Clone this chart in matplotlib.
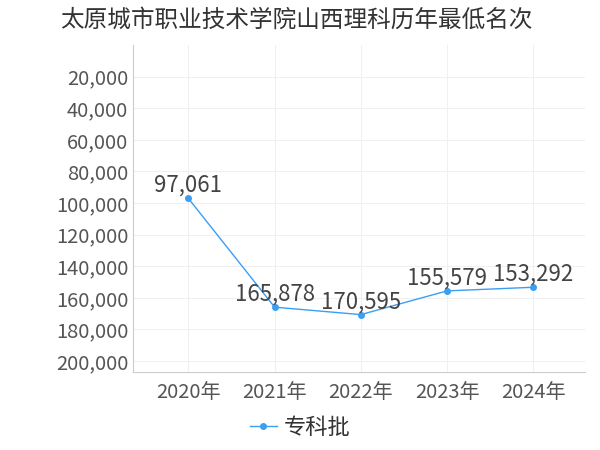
import matplotlib.pyplot as plt
from matplotlib.ticker import FuncFormatter

plt.rcParams['font.family'] = ['Noto Sans CJK SC', 'DejaVu Sans']

years = ['2020年', '2021年', '2022年', '2023年', '2024年']
ranks = [97061, 165878, 170595, 155579, 153292]
series_name = '专科批'
title = '太原城市职业技术学院山西理科历年最低名次'

fig = plt.figure(figsize=(6, 4.5), dpi=100)
ax = fig.add_axes([0.222, 0.173, 0.753, 0.727])
x = list(range(len(years)))
ax.plot(x, ranks, color='#3a9ef5', lw=1, marker='o', ms=4, label=series_name)
for xi, v in zip(x, ranks):
    ax.annotate(f'{v:,}', (xi, v), xytext=(0, 1), textcoords='offset points',
                ha='center', va='bottom', fontsize=16, color='#444444')

ax.set_xlim(-0.64, 4.6)
ax.set_ylim(207000, 0)
ax.set_yticks(range(20000, 200001, 20000))
ax.yaxis.set_major_formatter(FuncFormatter(lambda v, p: f'{int(v):,}'))
ax.set_xticks(x)
ax.set_xticklabels(years)
ax.tick_params(axis='both', labelsize=14.5, colors='#555555', length=0)
ax.tick_params(axis='x', pad=7)
ax.grid(True, color='#f0f0f0', lw=0.8)
for s in ['top', 'right']:
    ax.spines[s].set_visible(False)
for s in ['left', 'bottom']:
    ax.spines[s].set_color('#cccccc')

fig.text(0.1, 0.955, title, fontsize=17, color='#333333', va='center')
fig.legend(loc='lower center', bbox_to_anchor=(0.5, -0.02), frameon=False,
           fontsize=16, labelcolor='#333333', handlelength=1.2, handletextpad=0.3)
fig.savefig('out.png')
